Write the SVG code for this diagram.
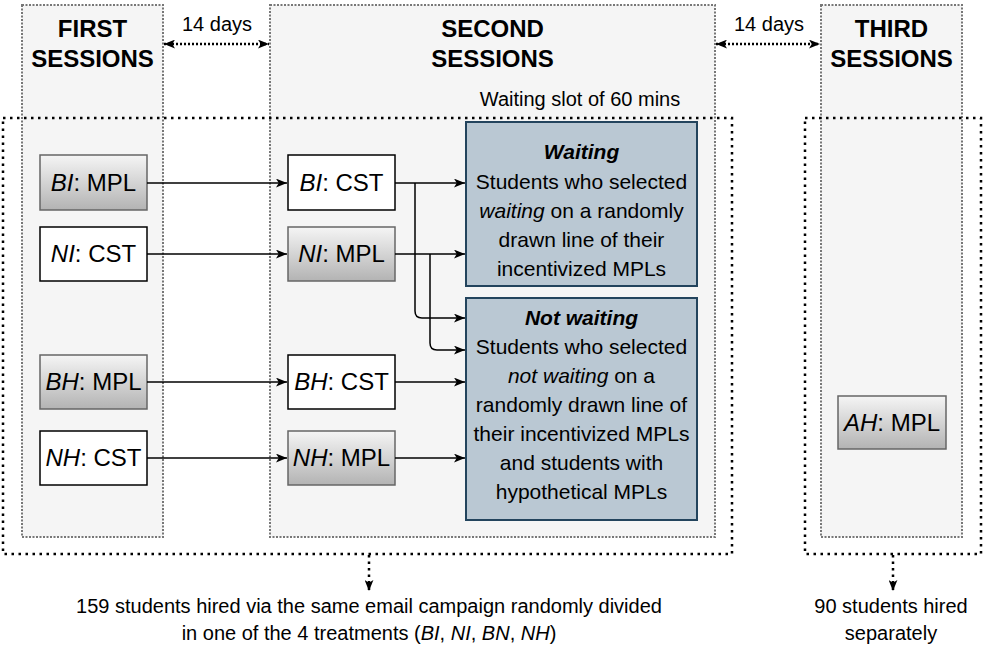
<svg xmlns="http://www.w3.org/2000/svg" width="985" height="648" viewBox="0 0 985 648">
<defs>
<linearGradient id="gr" x1="0" y1="0" x2="0" y2="1">
<stop offset="0" stop-color="#f5f5f5"/>
<stop offset="1" stop-color="#b3b3b3"/>
</linearGradient>
<marker id="ah" viewBox="0 0 10 8" refX="10" refY="4" markerWidth="11" markerHeight="9" markerUnits="userSpaceOnUse" orient="auto-start-reverse">
<path d="M0,0 L10,4 L0,8 L2.5,4 z" fill="#000"/>
</marker>
<style>
text{font-family:"Liberation Sans",Arial,Helvetica,sans-serif;fill:#000}
.col{fill:#f5f5f5;stroke:#777;stroke-width:2;stroke-dasharray:2 1.5}
.outer{fill:none;stroke:#000;stroke-width:2.5;stroke-dasharray:2.5 4.5}
.title{font-size:24px;font-weight:bold;text-anchor:middle}
.mpl{fill:url(#gr);stroke:#666;stroke-width:1.5}
.cst{fill:#fff;stroke:#000;stroke-width:1.5}
.nt{font-size:24px;text-anchor:middle}
.res{fill:#bac8d3;stroke:#23445d;stroke-width:2}
.rt{font-size:21px;text-anchor:middle}
.lbl{font-size:20px;text-anchor:middle}
.edge{fill:none;stroke:#000;stroke-width:1.5;marker-end:url(#ah)}
.dot{fill:none;stroke:#000;stroke-width:2.5;stroke-dasharray:2 2}
.dotv{fill:none;stroke:#000;stroke-width:2.5;stroke-dasharray:2.5 4}
</style>
</defs>

<g id="first-sessions">
<rect class="col" x="22" y="5" width="141" height="532"/>
<text class="title" x="92.5" y="37">FIRST</text>
<text class="title" x="92.5" y="67">SESSIONS</text>
</g>
<g id="second-sessions">
<rect class="col" x="270" y="5" width="445" height="532"/>
<text class="title" x="492.5" y="37">SECOND</text>
<text class="title" x="492.5" y="67">SESSIONS</text>
<text class="lbl" x="580" y="106">Waiting slot of 60 mins</text>
</g>
<g id="third-sessions">
<rect class="col" x="821" y="5" width="141" height="532"/>
<text class="title" x="891.5" y="37">THIRD</text>
<text class="title" x="891.5" y="67">SESSIONS</text>
</g>

<g id="group-159">
<rect class="outer" x="3" y="118" width="729" height="436"/>
</g>
<g id="group-90">
<rect class="outer" x="805" y="118" width="176" height="436"/>
</g>

<g id="bi-mpl"><rect class="mpl" x="40" y="155" width="107" height="55"/><text class="nt" x="93.5" y="191"><tspan font-style="italic">BI</tspan>: MPL</text></g>
<g id="ni-cst"><rect class="cst" x="40" y="227" width="107" height="54"/><text class="nt" x="93.5" y="262"><tspan font-style="italic">NI</tspan>: CST</text></g>
<g id="bh-mpl"><rect class="mpl" x="40" y="355" width="107" height="54"/><text class="nt" x="93.5" y="390"><tspan font-style="italic">BH</tspan>: MPL</text></g>
<g id="nh-cst"><rect class="cst" x="40" y="431" width="107" height="54"/><text class="nt" x="93.5" y="466"><tspan font-style="italic">NH</tspan>: CST</text></g>

<g id="bi-cst"><rect class="cst" x="288" y="155" width="107" height="55"/><text class="nt" x="341.5" y="191"><tspan font-style="italic">BI</tspan>: CST</text></g>
<g id="ni-mpl"><rect class="mpl" x="288" y="227" width="107" height="54"/><text class="nt" x="341.5" y="262"><tspan font-style="italic">NI</tspan>: MPL</text></g>
<g id="bh-cst"><rect class="cst" x="288" y="355" width="107" height="54"/><text class="nt" x="341.5" y="390"><tspan font-style="italic">BH</tspan>: CST</text></g>
<g id="nh-mpl"><rect class="mpl" x="288" y="431" width="107" height="54"/><text class="nt" x="341.5" y="466"><tspan font-style="italic">NH</tspan>: MPL</text></g>

<g id="ah-mpl"><rect class="mpl" x="838" y="396" width="108" height="53"/><text class="nt" x="892" y="431"><tspan font-style="italic">AH</tspan>: MPL</text></g>

<g id="waiting">
<rect class="res" x="466" y="122" width="231" height="164"/>
<text class="rt" x="581.5" y="159" font-weight="bold" font-style="italic">Waiting</text>
<text class="rt" x="581.5" y="189">Students who selected</text>
<text class="rt" x="581.5" y="218"><tspan font-style="italic">waiting</tspan> on a randomly</text>
<text class="rt" x="581.5" y="247">drawn line of their</text>
<text class="rt" x="581.5" y="276">incentivized MPLs</text>
</g>

<g id="not-waiting">
<rect class="res" x="466" y="298" width="231" height="222"/>
<text class="rt" x="581.5" y="325" font-weight="bold" font-style="italic">Not waiting</text>
<text class="rt" x="581.5" y="354">Students who selected</text>
<text class="rt" x="581.5" y="383"><tspan font-style="italic">not waiting</tspan> on a</text>
<text class="rt" x="581.5" y="412">randomly drawn line of</text>
<text class="rt" x="581.5" y="441">their incentivized MPLs</text>
<text class="rt" x="581.5" y="470">and students with</text>
<text class="rt" x="581.5" y="499">hypothetical MPLs</text>
</g>

<g id="bottom-labels">
<text class="lbl" x="369" y="613">159 students hired via the same email campaign randomly divided</text>
<text class="lbl" x="369" y="640">in one of the 4 treatments (<tspan font-style="italic">BI</tspan>, <tspan font-style="italic">NI</tspan>, <tspan font-style="italic">BN</tspan>, <tspan font-style="italic">NH</tspan>)</text>
<text class="lbl" x="891" y="613">90 students hired</text>
<text class="lbl" x="891" y="640">separately</text>
<text class="lbl" x="217" y="31">14 days</text>
<text class="lbl" x="769" y="31">14 days</text>
</g>

<g id="connectors">
<path class="edge" d="M147,183 H287"/>
<path class="edge" d="M147,254 H287"/>
<path class="edge" d="M147,382 H287"/>
<path class="edge" d="M147,458 H287"/>
<path class="edge" d="M395,183 H465"/>
<path class="edge" d="M395,254 H465"/>
<path class="edge" d="M415,183 V311 Q415,318 422,318 H465"/>
<path class="edge" d="M430,254 V343 Q430,350 437,350 H465"/>
<path class="edge" d="M395,382 H465"/>
<path class="edge" d="M395,458 H465"/>
<path class="dot" d="M164,44 H269" marker-start="url(#ah)" marker-end="url(#ah)"/>
<path class="dot" d="M716,44 H820" marker-start="url(#ah)" marker-end="url(#ah)"/>
<path class="dotv" d="M369,555 V591" marker-end="url(#ah)"/>
<path class="dotv" d="M893,555 V591" marker-end="url(#ah)"/>
</g>
</svg>
